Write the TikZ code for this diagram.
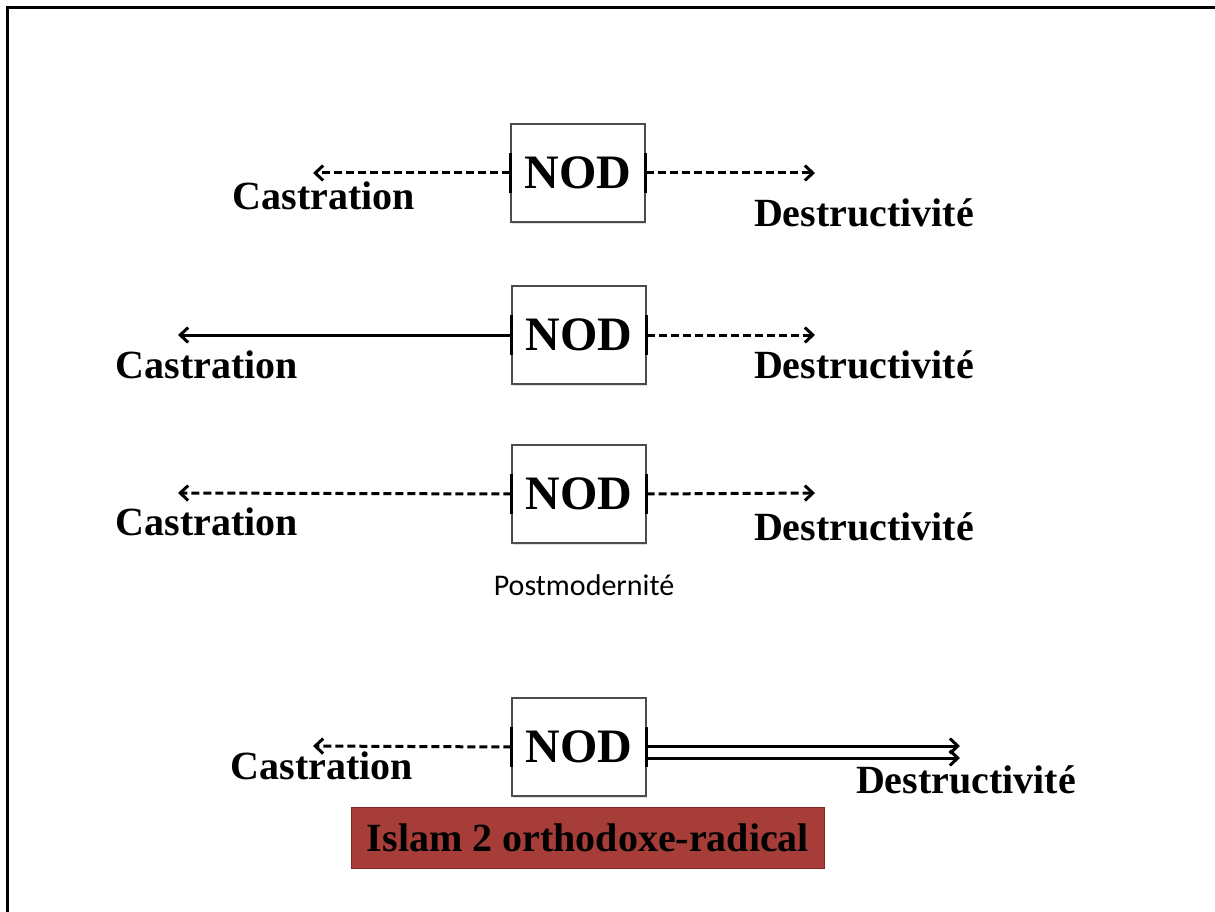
\documentclass[tikz,border=0pt]{standalone}
\usepackage{fontspec}
\setmainfont{Liberation Serif}
\newfontfamily\postfont{Carlito}
\usepackage{tikz}
\usetikzlibrary{arrows.meta,shadows}

\begin{document}
\begin{tikzpicture}[x=1pt,y=-1pt]

	\definecolor{brickred}{RGB}{166,61,56}
	\definecolor{darkbrick}{RGB}{130,38,34}

	\useasboundingbox (0,0) rectangle (1215,912);
	\draw[line width=3pt] (7,912) -- (7,8) -- (1215,8);

	\tikzstyle{edge} = [draw,line width=3pt,->,>={Straight Barb[length=8pt,width=15pt]}]
	\tikzstyle{dashedge} = [dash pattern=on 8pt off 4pt]
	\tikzstyle{tick} = [draw,line width=2.8pt]
	\tikzset{nodbox/.style = {shape=rectangle,draw=black!70,line width=1.2pt,fill=white,
		minimum width=134pt,minimum height=98pt,inner sep=0pt,
		font=\fontsize{48}{52}\selectfont\bfseries,
		drop shadow={opacity=0.25,shadow xshift=1pt,shadow yshift=-2pt}}}
	\tikzset{word/.style = {anchor=base,inner sep=0pt,font=\fontsize{40}{46}\selectfont\bfseries}}

	% the four NOD boxes
	\node[nodbox] (nod1) at (578,173) {NOD};
	\node[nodbox] (nod2) at (579,335) {NOD};
	\node[nodbox] (nod3) at (579,494) {NOD};
	\node[nodbox] (nod4) at (579,747) {NOD};

	% labels
	\node[word] (cas1) at (324,210) {Castration};
	\node[word] (des1) at (864,226) {Destructivité};
	\node[word] (cas2) at (207,378) {Castration};
	\node[word] (des2) at (864,378) {Destructivité};
	\node[word] (cas3) at (207,535) {Castration};
	\node[word] (des3) at (864,540) {Destructivité};
	\node[word] (cas4) at (322,779) {Castration};
	\node[word] (des4) at (966,793) {Destructivité};
	\node[anchor=base,inner sep=0pt,font=\postfont\fontsize{30}{34}\selectfont] (post) at (584,595) {Postmodernité};

	\node[fill=brickred,draw=darkbrick,line width=1pt,minimum width=473pt,minimum height=61pt,
		font=\fontsize{40}{46}\selectfont\bfseries] (islam) at (588,838) {Islam 2 orthodoxe-radical};

	% arrow ends
	\coordinate (l1) at (313,173);
	\coordinate (r1) at (815,173);
	\coordinate (l2) at (178,335);
	\coordinate (r2) at (815,335);
	\coordinate (l3) at (178,493);
	\coordinate (r3) at (815,493);
	\coordinate (l4) at (313,746);
	\coordinate (r4a) at (960,746);
	\coordinate (r4b) at (960,758);

	\draw[edge,dashedge] (nod1.west) to (l1);
	\draw[edge,dashedge] (nod1.east) to (r1);
	\draw[edge] (nod2.west) to (l2);
	\draw[edge,dashedge] (nod2.east) to (r2);
	\draw[edge,dashedge] (nod3.west) to (l3);
	\draw[edge,dashedge] (nod3.east) to (r3);
	\draw[edge,dashedge] (nod4.west) to (l4);
	\draw[edge] (nod4.east |- r4a) to (r4a);
	\draw[edge] (nod4.east |- r4b) to (r4b);

	% connection marks on the box sides
	\foreach \n in {nod1,nod2,nod3,nod4}{
		\draw[tick] (\n.west) ++(0,-20) -- ++(0,40);
		\draw[tick] (\n.east) ++(0,-20) -- ++(0,40);
	}

\end{tikzpicture}
\end{document}
